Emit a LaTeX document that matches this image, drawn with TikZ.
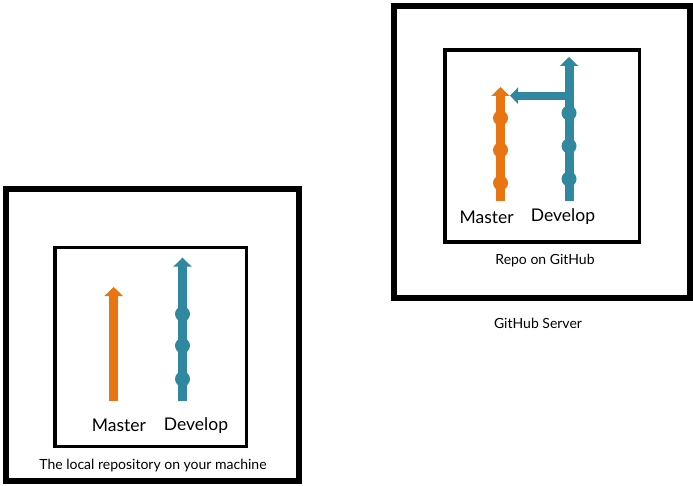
\documentclass[tikz,border=0pt]{standalone}
\usepackage{fontspec}
\setmainfont{Lato}
\usetikzlibrary{arrows.meta}
\definecolor{masterorange}{RGB}{232,117,17}
\definecolor{developblue}{RGB}{47,136,159}

\begin{document}
\begin{tikzpicture}[x=1pt,y=-1pt,
    outerbox/.style={draw,line width=6pt},
    innerbox/.style={draw,line width=3.5pt},
    branch/.style={line width=9pt,-{Triangle[width=18pt,length=9pt]}},
    commit/.style={circle,inner sep=0pt,minimum size=15pt},
    branchname/.style={font=\fontsize{17.5}{20}\selectfont},
    boxtext/.style={font=\fontsize{14}{16}\selectfont}]
  \useasboundingbox (0,0) rectangle (693,486);

  % local repository
  \draw[outerbox] (5.5,189) rectangle (299,481);
  \draw[innerbox] (55,247.5) rectangle (246.5,446.5);
  \coordinate (lmbottom) at (113.7,400.7);
  \coordinate (lmtip) at (113.7,287);
  \coordinate (ldbottom) at (182.5,400.7);
  \coordinate (ldtip) at (182.5,257.7);
  \draw[branch,masterorange] (lmbottom) -- (lmtip);
  \draw[branch,developblue] (ldbottom) -- (ldtip);
  \node[commit,fill=developblue] (ld1) at (182.5,379) {};
  \node[commit,fill=developblue] (ld2) at (182.5,345.7) {};
  \node[commit,fill=developblue] (ld3) at (182.5,314) {};
  \node[branchname] (lmaster) at (119,425.7) {Master};
  \node[branchname] (ldevelop) at (196,425.7) {Develop};
  \node[boxtext] (localtext) at (153,465.7) {The local repository on your machine};

  % github
  \draw[outerbox] (394,6) rectangle (689.5,297.5);
  \draw[innerbox] (445,50) rectangle (639.5,242);
  \coordinate (rmbottom) at (500.5,200.7);
  \coordinate (rmtip) at (500.5,87);
  \coordinate (rdbottom) at (569,200.7);
  \coordinate (rdtip) at (569,57);
  \coordinate (mergestart) at (569,95.7);
  \coordinate (mergetip) at (510,95.7);
  \draw[branch,masterorange] (rmbottom) -- (rmtip);
  \draw[branch,developblue] (rdbottom) -- (rdtip);
  \draw[developblue,line width=8pt,-{Triangle[width=16pt,length=8pt]}] (mergestart) -- (mergetip);
  \node[commit,fill=masterorange] (rm1) at (500.5,183) {};
  \node[commit,fill=masterorange] (rm2) at (500.5,150) {};
  \node[commit,fill=masterorange] (rm3) at (500.5,118) {};
  \node[commit,fill=developblue] (rd1) at (569,179) {};
  \node[commit,fill=developblue] (rd2) at (569,146) {};
  \node[commit,fill=developblue] (rd3) at (569,113) {};
  \node[branchname] (rmaster) at (486.7,217) {Master};
  \node[branchname] (rdevelop) at (563,217) {Develop};
  \node[boxtext] (repotext) at (545,261) {Repo on GitHub};
  \node[boxtext] (servertext) at (538,323) {GitHub Server};
\end{tikzpicture}
\end{document}
